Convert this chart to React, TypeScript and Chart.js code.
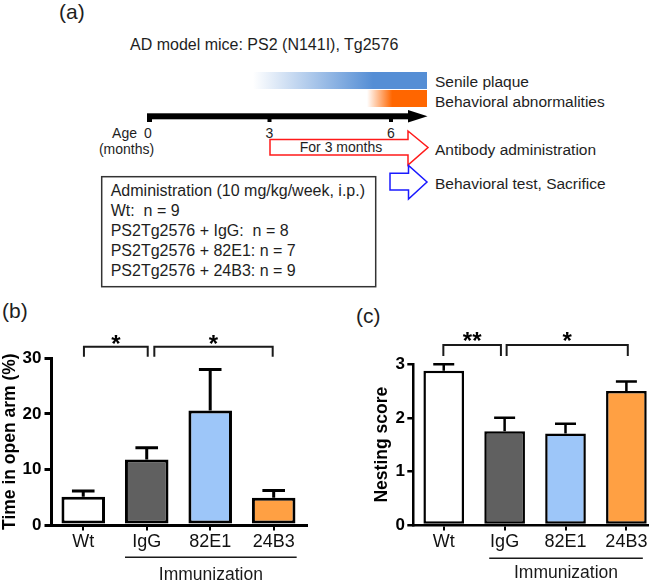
import React, { useEffect, useRef } from 'react';
import { Chart, registerables } from 'chart.js';

Chart.register(...registerables);

const FONT = "'Liberation Sans', Arial, Helvetica, sans-serif";

// ---------- data ----------
const groups = ['Wt', 'IgG', '82E1', '24B3'];
const groupColors = ['#ffffff', '#606060', '#9dc6f9', '#ffa043'];

const openArmMean = [5.1, 11.8, 20.6, 4.9];
const openArmSem = [1.0, 2.1, 7.4, 1.3];
const openArmTicks = [0, 10, 20, 30];
const openArmSig = [
  { from: 0, to: 1, label: '*' },
  { from: 1, to: 3, label: '*' },
];

const nestingMean = [2.88, 1.75, 1.71, 2.5];
const nestingSem = [0.12, 0.25, 0.18, 0.18];
const nestingTicks = [0, 1, 2, 3];
const nestingSig = [
  { from: 0, to: 1, label: '**' },
  { from: 1, to: 3, label: '*' },
];

const immunizationLabel = 'Immunization';

const ageTicks = [0, 3, 6];
const adminLines = [
  'Administration (10 mg/kg/week, i.p.)',
  'Wt:  n = 9',
  'PS2Tg2576 + IgG:  n = 8',
  'PS2Tg2576 + 82E1: n = 7',
  'PS2Tg2576 + 24B3: n = 9',
];

// ---------- panel configs (layout / style) ----------
const panelB = {
  left: 0,
  mean: openArmMean,
  sem: openArmSem,
  ticks: openArmTicks,
  sig: openArmSig,
  title: 'Time in open arm (%)',
  padding: { top: 58.3, right: 23.3, bottom: 0, left: 0 },
  yWidth: 51.5,
  xHeight: 58,
  xMin: -0.5,
  xMax: 3.52,
  barPct: 0.686,
  lw: 3,
  cap: 11.3,
  yTick: 7,
  yPad: 3,
  xTick: 5.5,
  xPad: 0.5,
  bracketRise: 11.6,
  leg: 10,
  starRise: 20.3,
  starSize: 24,
  bracketOffs: [[0.7, 1], [7.6, -1]],
  ulFrom: 0.658,
  ulTo: 3.362,
  ulDrop: 32.3,
  ulTextDrop: 50,
};

const panelC = {
  left: 330,
  mean: nestingMean,
  sem: nestingSem,
  ticks: nestingTicks,
  sig: nestingSig,
  title: 'Nesting score',
  padding: { top: 64.3, right: 12.3, bottom: 0, left: 41.8 },
  yWidth: 41.5,
  xHeight: 58,
  xMin: -0.5,
  xMax: 3.35,
  barPct: 0.668,
  lw: 2.5,
  cap: 10.5,
  yTick: 6,
  yPad: 2.3,
  xTick: 5.5,
  xPad: 0.5,
  bracketRise: 19.3,
  leg: 11,
  starRise: 29.3,
  starSize: 24,
  bracketOffs: [[-0.4, -3.7], [2, 1.4]],
  ulFrom: 0.747,
  ulTo: 3.27,
  ulDrop: 33.3,
  ulTextDrop: 48.3,
};

function makeAnnotPlugin(cfg: any) {
  return {
    id: 'annot',
    afterDatasetsDraw(chart: any) {
      const { ctx, chartArea } = chart;
      const xs = chart.scales.x;
      const ys = chart.scales.y;
      const meta = chart.getDatasetMeta(0);
      ctx.save();
      // error bars (upper only)
      ctx.strokeStyle = '#000';
      ctx.lineWidth = cfg.lw;
      ctx.lineCap = 'butt';
      meta.data.forEach((bar: any, i: number) => {
        const top = ys.getPixelForValue(cfg.mean[i]);
        const err = ys.getPixelForValue(cfg.mean[i] + cfg.sem[i]);
        ctx.beginPath();
        ctx.moveTo(bar.x, top);
        ctx.lineTo(bar.x, err);
        ctx.moveTo(bar.x - cfg.cap, err);
        ctx.lineTo(bar.x + cfg.cap, err);
        ctx.stroke();
      });
      // significance brackets
      ctx.lineWidth = 2;
      ctx.strokeStyle = '#1a1a1a';
      ctx.lineJoin = 'miter';
      cfg.sig.forEach((s: any, k: number) => {
        const [o1, o2] = cfg.bracketOffs[k];
        const x1 = xs.getPixelForValue(s.from) + o1;
        const x2 = xs.getPixelForValue(s.to) + o2;
        const yb = chartArea.top - cfg.bracketRise;
        ctx.beginPath();
        ctx.moveTo(x1, yb + cfg.leg);
        ctx.lineTo(x1, yb);
        ctx.lineTo(x2, yb);
        ctx.lineTo(x2, yb + cfg.leg);
        ctx.stroke();
        ctx.fillStyle = '#000';
        ctx.font = `bold ${cfg.starSize}px ${FONT}`;
        ctx.textAlign = 'center';
        ctx.textBaseline = 'alphabetic';
        ctx.fillText(s.label, (x1 + x2) / 2, chartArea.top - cfg.starRise + 0.57 * cfg.starSize);
      });
      // immunization underline + label
      const u1 = xs.getPixelForValue(cfg.ulFrom);
      const u2 = xs.getPixelForValue(cfg.ulTo);
      const uy = chartArea.bottom + cfg.ulDrop;
      ctx.lineWidth = 1.5;
      ctx.strokeStyle = '#1a1a1a';
      ctx.beginPath();
      ctx.moveTo(u1, uy);
      ctx.lineTo(u2, uy);
      ctx.stroke();
      ctx.fillStyle = '#1a1a1a';
      ctx.font = `17.5px ${FONT}`;
      ctx.textAlign = 'center';
      ctx.textBaseline = 'middle';
      ctx.fillText(immunizationLabel, (u1 + u2) / 2, chartArea.bottom + cfg.ulTextDrop);
      ctx.restore();
    },
  };
}

function BarPanel({ cfg }: { cfg: any }) {
  const ref = useRef<HTMLCanvasElement | null>(null);
  useEffect(() => {
    if (!ref.current) return;
    const chart = new Chart(ref.current, {
      type: 'bar',
      data: {
        datasets: [
          {
            data: cfg.mean.map((v: number, i: number) => ({ x: i, y: v })),
            backgroundColor: groupColors,
            borderColor: '#000',
            borderWidth: cfg.lw,
            borderSkipped: false,
            barPercentage: cfg.barPct,
            categoryPercentage: 1,
          },
        ],
      },
      options: {
        animation: false,
        responsive: false,
        devicePixelRatio: 1,
        layout: { padding: cfg.padding },
        plugins: {
          legend: { display: false },
          tooltip: { enabled: false },
        },
        scales: {
          x: {
            type: 'linear',
            min: cfg.xMin,
            max: cfg.xMax,
            offset: false,
            afterBuildTicks: (s: any) => {
              s.ticks = groups.map((_, i) => ({ value: i }));
            },
            afterFit: (s: any) => {
              s.height = cfg.xHeight;
            },
            ticks: {
              callback: (v: any) => groups[Math.round(Number(v))] ?? '',
              autoSkip: false,
              maxRotation: 0,
              padding: cfg.xPad,
              color: '#111',
              font: { family: FONT, size: 18 },
            },
            grid: {
              display: true,
              offset: false,
              drawOnChartArea: false,
              drawTicks: true,
              tickLength: cfg.xTick,
              lineWidth: 2,
              color: '#000',
            },
            border: { display: true, width: cfg.lw, color: '#000' },
          },
          y: {
            type: 'linear',
            min: cfg.ticks[0],
            max: cfg.ticks[cfg.ticks.length - 1],
            afterBuildTicks: (s: any) => {
              s.ticks = cfg.ticks.map((v: number) => ({ value: v }));
            },
            afterFit: (s: any) => {
              s.width = cfg.yWidth;
            },
            ticks: {
              padding: cfg.yPad,
              color: '#000',
              font: { family: FONT, size: 17, weight: 'bold' },
            },
            grid: {
              drawOnChartArea: false,
              drawTicks: true,
              tickLength: cfg.yTick,
              lineWidth: cfg.lw,
              color: '#000',
            },
            border: { display: true, width: cfg.lw, color: '#000' },
            title: {
              display: true,
              text: cfg.title,
              color: '#000',
              font: { family: FONT, size: 17.5, weight: 'bold' },
              padding: 0,
            },
          },
        },
      } as any,
      plugins: [makeAnnotPlugin(cfg)],
    });
    return () => chart.destroy();
  }, [cfg]);
  return (
    <canvas
      ref={ref}
      width={330}
      height={283}
      style={{ position: 'absolute', left: cfg.left, top: 300, width: 330, height: 283 }}
    />
  );
}

const ageX = (m: number) => 148 + m * 40.5;

function PanelA() {
  const txt = { fontFamily: FONT, fill: '#1e1e1e' } as any;
  return (
    <svg width={660} height={583} style={{ position: 'absolute', left: 0, top: 0 }}>
      <defs>
        <linearGradient id="gBlue" x1="0" y1="0" x2="1" y2="0">
          <stop offset="0" stopColor="#558ed5" stopOpacity="0" />
          <stop offset="0.69" stopColor="#558ed5" stopOpacity="1" />
          <stop offset="1" stopColor="#558ed5" stopOpacity="1" />
        </linearGradient>
        <linearGradient id="gOrange" x1="0" y1="0" x2="1" y2="0">
          <stop offset="0" stopColor="#ff6600" stopOpacity="0" />
          <stop offset="0.42" stopColor="#ff6600" stopOpacity="1" />
          <stop offset="1" stopColor="#ff6600" stopOpacity="1" />
        </linearGradient>
      </defs>

      {/* panel labels */}
      <text x={59} y={18.5} fontSize={21} {...txt}>(a)</text>
      <text x={2} y={318} fontSize={21} {...txt}>(b)</text>
      <text x={356} y={323} fontSize={21} {...txt}>(c)</text>

      <text x={130} y={49.5} fontSize={16} {...txt}>AD model mice: PS2 (N141I), Tg2576</text>

      {/* pathology bands */}
      <rect x={253} y={72} width={174} height={17} fill="url(#gBlue)" />
      <rect x={367} y={90} width={60} height={17} fill="url(#gOrange)" />
      <text x={435} y={87} fontSize={15.5} {...txt}>Senile plaque</text>
      <text x={435} y={107} fontSize={15.5} {...txt}>Behavioral abnormalities</text>

      {/* age timeline */}
      <rect x={ageX(0) - 1} y={113.3} width={408 - ageX(0) + 1} height={6} fill="#000" />
      <polygon points="408,110 427.5,116.3 408,122.6" fill="#000" />
      {ageTicks.map((m) => (
        <rect key={'t' + m} x={ageX(m) - (m === 0 ? 1 : 2)} y={118} width={m === 0 ? 5 : 4} height={4} fill="#000" />
      ))}
      <text x={137} y={137.5} fontSize={14} textAnchor="end" {...txt}>Age</text>
      {ageTicks.map((m) => (
        <text key={'l' + m} x={ageX(m)} y={137.5} fontSize={14} textAnchor="middle" {...txt}>{m}</text>
      ))}
      <text x={126.5} y={154} fontSize={14} textAnchor="middle" {...txt}>(months)</text>

      {/* antibody administration arrow */}
      <polygon
        points="270,139.5 408,139.5 408,131 428,147.5 408,165 408,155 270,155"
        fill="#fff"
        stroke="#ff1a1a"
        strokeWidth={1.5}
      />
      <text x={341} y={152} fontSize={14} textAnchor="middle" {...txt}>For 3 months</text>
      <text x={435} y={155} fontSize={15.5} {...txt}>Antibody administration</text>

      {/* behavioral test arrow */}
      <polygon
        points="390,173.3 408.5,173.3 408.5,165.5 427,182 408.5,199 408.5,190 390,190"
        fill="#fff"
        stroke="#1a1aff"
        strokeWidth={1.5}
      />
      <text x={435} y={189} fontSize={15.5} {...txt}>Behavioral test, Sacrifice</text>

      {/* administration box */}
      <rect x={101.7} y={176.7} width={274} height={110} fill="none" stroke="#333" strokeWidth={1.5} />
      {adminLines.map((line, i) => (
        <text key={'a' + i} x={110.7} y={196 + i * 20} fontSize={16} style={{ whiteSpace: 'pre' }} {...txt}>
          {line}
        </text>
      ))}
    </svg>
  );
}

export default function App() {
  return (
    <div
      style={{
        position: 'fixed',
        left: 0,
        top: 0,
        width: 660,
        height: 583,
        background: '#fff',
        overflow: 'hidden',
      }}
    >
      <PanelA />
      <BarPanel cfg={panelB} />
      <BarPanel cfg={panelC} />
    </div>
  );
}
